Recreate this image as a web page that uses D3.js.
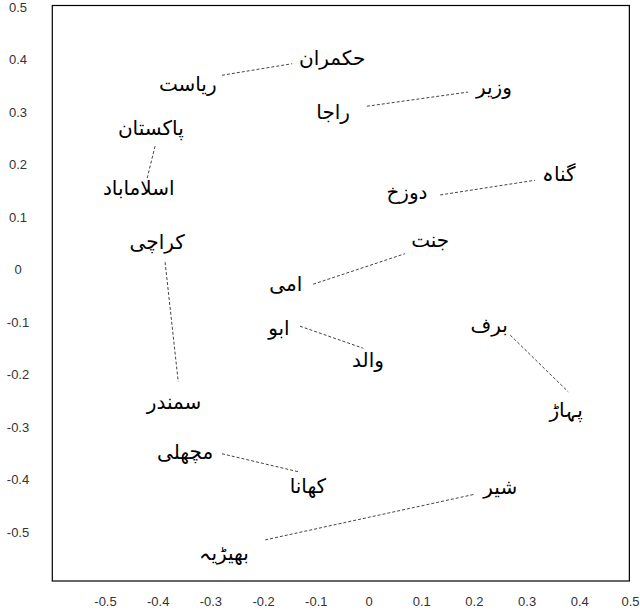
<meta charset="utf-8">
<head>
  <title>Urdu word pairs</title>
</head>

<style>
body { margin: 0; background: #fff; }
.tick text { font-family: "Liberation Sans", Arial, sans-serif; font-size: 13px; fill: #333; }
.word { font-family: "DejaVu Sans", sans-serif; font-size: 20px; fill: #000; }
.pair { stroke: #444; stroke-width: 1; stroke-dasharray: 3,2; fill: none; }
</style>

<body>
  <div id="content"></div>
  <script src="https://cdnjs.cloudflare.com/ajax/libs/d3/7.8.5/d3.min.js"></script>
  <script>

const width = 640
const height = 613

// words and where they sit on the two axes
var words = ['حکمران', 'ریاست', 'وزیر', 'راجا', 'پاکستان', 'اسلاماباد', 'گناہ', 'دوزخ',
             'کراچی', 'جنت', 'امی', 'ابو', 'والد', 'برف', 'پہاڑ', 'سمندر',
             'مچھلی', 'کھانا', 'شیر', 'بھیڑیہ'];
var wordX = [-0.069, -0.343, 0.238, -0.067, -0.413, -0.436, 0.361, 0.073,
             -0.401, 0.117, -0.157, -0.170, -0.001, 0.229, 0.375, -0.369,
             -0.348, -0.115, 0.250, -0.274];
var wordY = [0.403, 0.353, 0.348, 0.300, 0.270, 0.155, 0.182, 0.148,
             0.052, 0.056, -0.028, -0.111, -0.172, -0.106, -0.268, -0.252,
             -0.348, -0.412, -0.414, -0.540];

// dashed links: start and end of each segment
var linkX1 = [-0.278, -0.003, -0.405, 0.136, -0.386, -0.105, -0.130, 0.269, -0.278, -0.196];
var linkY1 = [0.370, 0.311, 0.235, 0.142, 0.014, -0.028, -0.108, -0.125, -0.351, -0.515];
var linkX2 = [-0.145, 0.189, -0.420, 0.316, -0.361, 0.069, -0.010, 0.379, -0.130, 0.202];
var linkY2 = [0.392, 0.338, 0.174, 0.170, -0.214, 0.030, -0.150, -0.233, -0.386, -0.428];

var tickValues = [-0.5, -0.4, -0.3, -0.2, -0.1, 0, 0.1, 0.2, 0.3, 0.4, 0.5];

var xScale = d3.scaleLinear().domain([-0.5, 0.5]).range([105, 632])
var yScale = d3.scaleLinear().domain([-0.5, 0.5]).range([532, 7])

const svg = d3.select('#content')
      .append('svg')
        .attr('width', width)
        .attr('height', height)

// plot frame
svg.append('rect')
  .attr('x', xScale(-0.6))
  .attr('y', 5.5)
  .attr('width', xScale(0.495) - xScale(-0.6))
  .attr('height', 575.5)
  .attr('fill', 'none')
  .attr('stroke', '#000')
  .attr('stroke-width', 1.2)

// plain hyphen for negatives, like the original
var fmt = function(d) { return d == 0 ? '0' : d3.format('.1f')(d).replace('\u2212', '-') }

var yAxis = svg.append('g')
  .attr('transform', 'translate(18,0)')
  .call(d3.axisLeft(yScale).tickValues(tickValues).tickSize(0).tickPadding(0).tickFormat(fmt))
yAxis.select('.domain').remove()
yAxis.selectAll('text').attr('text-anchor', 'middle').attr('x', 0)

var xAxis = svg.append('g')
  .attr('transform', 'translate(0,597)')
  .call(d3.axisBottom(xScale).tickValues(tickValues).tickSize(0).tickPadding(0).tickFormat(fmt))
xAxis.select('.domain').remove()
// last label sits right at the page edge, keep it inside
xAxis.selectAll('.tick').filter(function(d) { return d == 0.5 })
  .select('text').attr('text-anchor', 'end').attr('x', 7)

svg.selectAll('line.pair')
  .data(d3.range(linkX1.length))
  .enter()
  .append('line')
    .attr('class', 'pair')
    .attr('x1', function(i) { return xScale(linkX1[i]) })
    .attr('y1', function(i) { return yScale(linkY1[i]) })
    .attr('x2', function(i) { return xScale(linkX2[i]) })
    .attr('y2', function(i) { return yScale(linkY2[i]) })

svg.selectAll('text.word')
  .data(words)
  .enter()
  .append('text')
    .attr('class', 'word')
    .attr('text-anchor', 'middle')
    .attr('dominant-baseline', 'central')
    .attr('x', function(d, i) { return xScale(wordX[i]) })
    .attr('y', function(d, i) { return yScale(wordY[i]) })
    .text(function(d) { return d })

</script>
</body>
</html>
